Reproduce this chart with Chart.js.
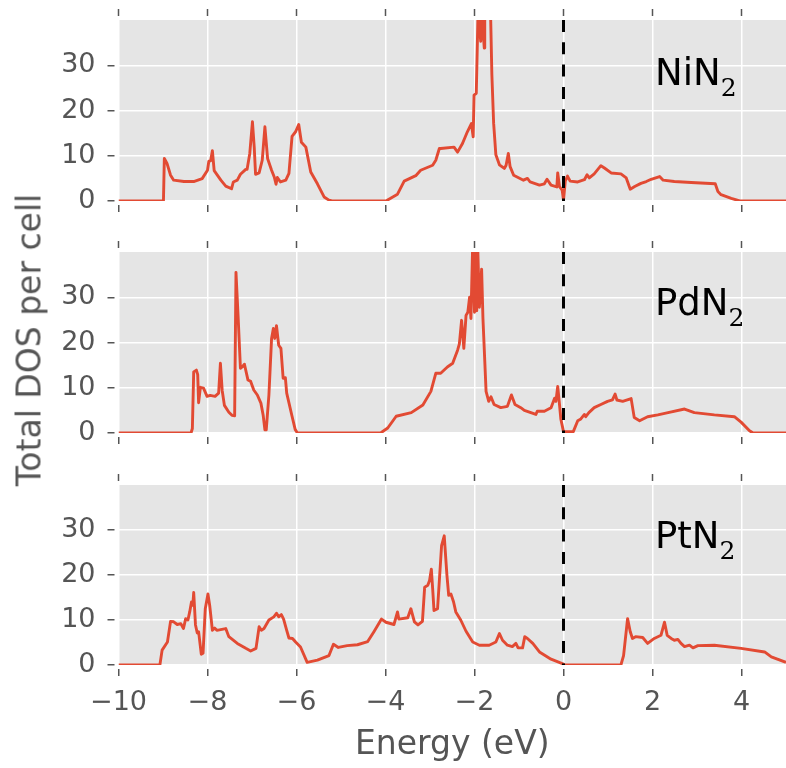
<!DOCTYPE html>
<html><head><meta charset="utf-8">
<script src="https://cdn.jsdelivr.net/npm/chart.js@4.4.1/dist/chart.umd.min.js"></script>
<style>
html,body{margin:0;padding:0;background:#fff;}
#wrap{position:relative;width:786px;height:768px;overflow:hidden;font-family:"DejaVu Sans";}
canvas{position:absolute;left:0;}
.lbl{position:absolute;left:655px;font-family:"DejaVu Sans";font-size:37px;color:#000;white-space:nowrap;line-height:1;}
.lbl .sub{font-family:"DejaVu Serif";font-size:25px;position:relative;top:0.42em;}
#ytitle{position:absolute;font-size:33px;color:#555;white-space:nowrap;line-height:1;transform:translate(-50%,-50%) rotate(-90deg);left:29px;top:340px;}
</style></head>
<body>
<div id="wrap">
<canvas id="c1" width="786" height="221" style="top:0px"></canvas>
<canvas id="c2" width="786" height="221" style="top:232px"></canvas>
<canvas id="c3" width="786" height="303" style="top:465px"></canvas>
<div class="lbl" style="top:54px">NiN<span class="sub">2</span></div>
<div class="lbl" style="top:284px">PdN<span class="sub">2</span></div>
<div class="lbl" style="top:517px">PtN<span class="sub">2</span></div>
<div id="ytitle">Total DOS per cell</div>
</div>
<script>
// ---- data ----
const xTicks = [-10, -8, -6, -4, -2, 0, 2, 4];
const yTicks = [0, 10, 20, 30];
const xRange = [-10, 5];
const yRange = [0, 40];
const fermiLevel = 0;

const niE = [-10,-8.99,-8.97,-8.91,-8.83,-8.76,-8.53,-8.31,-8.12,-8.0,-7.97,-7.93,-7.89,-7.85,-7.70,-7.59,-7.46,-7.42,-7.33,-7.26,-7.14,-7.11,-7.05,-6.99,-6.95,-6.92,-6.84,-6.77,-6.71,-6.65,-6.56,-6.50,-6.46,-6.43,-6.36,-6.24,-6.17,-6.10,-6.02,-5.95,-5.89,-5.79,-5.68,-5.53,-5.38,-5.27,-5.2,-3.99,-3.73,-3.58,-3.32,-3.21,-2.94,-2.87,-2.79,-2.76,-2.46,-2.38,-2.27,-2.16,-2.07,-2.03,-2.01,-1.96,-1.92,-1.86,-1.84,-1.78,-1.77,-1.64,-1.61,-1.57,-1.52,-1.44,-1.33,-1.29,-1.24,-1.20,-1.12,-0.90,-0.81,-0.75,-0.54,-0.43,-0.37,-0.28,-0.15,-0.13,-0.09,-0.03,0.0,0.04,0.09,0.15,0.32,0.47,0.53,0.58,0.69,0.84,0.92,1.07,1.29,1.41,1.50,1.60,1.74,1.86,1.97,2.16,2.24,2.49,2.87,3.41,3.47,3.54,3.77,3.96,5];
const niDOS = [0,0,9.4,8.3,5.7,4.6,4.3,4.3,4.95,6.8,8.8,8.9,11.1,6.7,4.6,3.3,2.7,4.2,4.6,5.9,7.0,7.0,10.5,17.5,11.9,5.9,6.2,9.0,16.4,9.4,6.8,5.3,3.7,5.2,4.2,4.6,6.1,14.3,15.3,16.9,13.0,11.9,6.4,3.8,0.9,0.2,0,0,1.5,4.4,5.6,6.8,7.9,9.0,11.6,11.6,11.9,10.8,12.7,15.3,17.1,14.2,23.4,23.8,42,35.3,42,33.8,42,42,28.0,17.2,10.2,8.0,7.2,7.9,10.5,7.6,5.7,4.6,5.0,4.2,3.5,3.8,4.8,3.5,3.1,6.2,3.2,2.4,0.2,4.4,5.5,4.4,4.2,4.7,5.8,5.1,6.0,7.8,7.3,6.2,6.0,5.1,2.6,3.2,3.9,4.3,4.8,5.4,4.6,4.3,4.1,3.8,2.1,1.4,0.6,0,0];

const pdE = [-10,-8.37,-8.34,-8.31,-8.25,-8.22,-8.20,-8.16,-8.09,-8.01,-7.94,-7.83,-7.75,-7.71,-7.67,-7.62,-7.52,-7.45,-7.39,-7.36,-7.31,-7.26,-7.22,-7.17,-7.09,-7.03,-6.96,-6.88,-6.80,-6.75,-6.71,-6.68,-6.62,-6.56,-6.52,-6.49,-6.45,-6.40,-6.35,-6.30,-6.25,-6.22,-6.10,-6.03,-5.98,-4.11,-3.95,-3.76,-3.42,-3.16,-2.98,-2.87,-2.76,-2.61,-2.49,-2.38,-2.34,-2.29,-2.24,-2.19,-2.15,-2.11,-2.08,-2.04,-2.00,-1.98,-1.95,-1.93,-1.89,-1.84,-1.81,-1.74,-1.68,-1.63,-1.56,-1.41,-1.26,-1.17,-1.09,-0.96,-0.88,-0.62,-0.59,-0.43,-0.28,-0.20,-0.17,-0.13,-0.09,-0.06,0.0,0.22,0.32,0.39,0.47,0.50,0.57,0.69,0.84,0.99,1.10,1.16,1.20,1.33,1.52,1.59,1.71,1.89,2.12,2.35,2.72,2.94,3.39,3.84,3.99,4.18,4.26,5];
const pdDOS = [0,0,1,13.5,13.9,12.9,6.7,10.1,9.9,8.1,8.3,8.1,8.8,15.4,9.4,6.1,4.6,3.9,3.8,35.5,25.3,14.3,14.6,15.2,11.7,11.4,9.5,8.4,6.6,4.0,0.7,0.7,8.4,20.9,23.1,20.9,23.7,19.4,18.7,12.1,12.2,8.8,3.7,0.8,0,0,1.1,3.7,4.5,6.2,9.2,13.2,13.2,14.6,15.4,18.3,19.7,24.9,18.7,26.0,26.7,30.0,25.3,42,26.7,42,27.0,42,27.8,36.2,25.3,9.2,7.0,8.0,6.3,5.6,5.9,8.4,6.3,5.6,5.0,4.1,4.8,4.8,5.6,7.7,7.0,10.3,6.3,3.1,0.3,0.3,2.7,3.1,4.1,3.6,4.5,5.6,6.3,7.0,7.3,8.6,7.3,7.0,7.6,3.4,2.7,3.6,4.0,4.5,5.3,4.5,4.0,3.6,2.4,0.5,0,0];

const ptE = [-10,-9.07,-9.02,-8.90,-8.83,-8.76,-8.68,-8.60,-8.54,-8.49,-8.44,-8.40,-8.36,-8.33,-8.31,-8.27,-8.23,-8.20,-8.14,-8.10,-8.05,-7.99,-7.95,-7.89,-7.84,-7.79,-7.59,-7.52,-7.33,-7.14,-7.03,-6.91,-6.84,-6.79,-6.73,-6.62,-6.51,-6.45,-6.40,-6.34,-6.29,-6.22,-6.17,-6.09,-6.02,-5.91,-5.76,-5.53,-5.27,-5.17,-5.06,-4.86,-4.63,-4.40,-4.26,-4.09,-3.99,-3.81,-3.73,-3.70,-3.50,-3.43,-3.35,-3.27,-3.17,-3.12,-3.05,-3.01,-2.97,-2.94,-2.91,-2.83,-2.74,-2.68,-2.62,-2.58,-2.53,-2.47,-2.42,-2.31,-2.19,-2.04,-1.89,-1.67,-1.52,-1.44,-1.37,-1.26,-1.15,-1.07,-1.02,-0.92,-0.87,-0.81,-0.69,-0.54,-0.28,0.0,0.02,1.29,1.35,1.44,1.50,1.55,1.62,1.78,1.89,2.04,2.19,2.27,2.33,2.42,2.49,2.57,2.64,2.72,2.83,2.91,3.02,3.39,3.99,4.52,4.67,5.0];
const ptDOS = [0,0,3.3,5.1,9.7,9.6,9.0,9.2,8.1,10.3,10.0,11.8,14.0,13.3,16.1,8.9,7.1,7.4,2.4,2.6,12.5,15.8,13.2,7.7,8.2,7.7,8.1,6.3,4.8,3.7,3.1,3.7,8.5,7.7,8.1,10.0,10.7,11.5,10.7,11.2,10.2,7.7,6.0,5.9,5.1,4.0,0.6,1.1,2.1,4.6,3.9,4.3,4.5,5.2,7.4,10.2,9.5,9.0,11.8,10.2,10.5,12.5,9.6,8.9,9.7,17.3,17.7,18.8,21.3,16.9,12.1,12.5,26.5,28.7,20.0,15.5,15.8,14.0,11.8,10.0,7.5,5.1,4.4,4.4,5.1,7.0,5.5,4.4,4.1,4.8,3.8,3.8,6.3,5.9,4.8,2.9,1.3,0.2,0,0,2.1,10.3,7.4,5.9,6.3,6.1,4.8,5.9,6.6,9.5,6.6,5.9,5.5,5.7,4.8,4.1,4.4,3.8,4.3,4.4,3.7,2.9,1.8,0.6];

// ---- drawing ----
const TICK_FONT = {family: 'DejaVu Sans', size: 27};
const minus = v => (v < 0 ? '\u2212' + Math.abs(v) : String(v));
const bgPlugin = {
  id: 'bg',
  beforeDraw(c) {
    const {ctx, chartArea: a} = c;
    ctx.save();
    ctx.fillStyle = '#E5E5E5';
    ctx.fillRect(a.left, a.top, a.right - a.left, a.bottom - a.top);
    ctx.restore();
  }
};
function setTicks(arr) { return s => { s.ticks = arr.map(v => ({value: v})); }; }
function noPad(s) { s.paddingTop = 0; s.paddingBottom = 0; s.paddingLeft = 0; s.paddingRight = 0; }

function panel(id, E, D, isBottom) {
  const pts = E.map((e, i) => ({x: e, y: D[i]}));
  return new Chart(document.getElementById(id), {
    type: 'line',
    data: {
      datasets: [
        {data: [{x: fermiLevel, y: yRange[1]}, {x: fermiLevel, y: yRange[0]}], borderColor: '#000', borderWidth: 3,
         borderDash: [12, 10.3], pointRadius: 0, order: 0, xAxisID: 'x', yAxisID: 'y'},
        {data: pts, borderColor: '#E24A33', borderWidth: 2.9, pointRadius: 0, tension: 0, order: 1,
         xAxisID: 'x', yAxisID: 'y', borderJoinStyle: 'round'}
      ]
    },
    options: {
      responsive: false, animation: false, devicePixelRatio: 1,
      layout: {padding: 0},
      plugins: {legend: {display: false}, tooltip: {enabled: false}},
      scales: {
        x: {
          type: 'linear', position: 'bottom', min: xRange[0], max: xRange[1],
          afterBuildTicks: setTicks(xTicks),
          afterFit: s => { s.height = isBottom ? 103 : 20; noPad(s); },
          border: {display: false},
          grid: {color: '#FFFFFF', lineWidth: 1.5, tickLength: 11, tickColor: '#555555', tickWidth: 1.5,
                 tickBorderDash: [0, 4, 7, 100]},
          ticks: {display: isBottom, font: TICK_FONT, color: '#555555', padding: 11, maxRotation: 0,
                  autoSkip: false, callback: v => minus(v)},
          title: {display: isBottom, text: 'Energy (eV)', color: '#555555',
                  font: {family: 'DejaVu Sans', size: 33}, padding: {top: 0, bottom: 3}}
        },
        xTop: {
          type: 'linear', position: 'top', axis: 'x', min: xRange[0], max: xRange[1],
          afterBuildTicks: setTicks(xTicks),
          afterFit: s => { s.height = 20; noPad(s); },
          border: {display: false},
          grid: {drawOnChartArea: false, tickLength: 11, tickColor: '#555555', tickWidth: 1.5, tickBorderDash: [7, 100]},
          ticks: {display: false}
        },
        y: {
          type: 'linear', position: 'left', min: yRange[0], max: yRange[1],
          afterBuildTicks: setTicks(yTicks),
          afterFit: s => { s.width = 118.5; noPad(s); },
          border: {display: false},
          grid: {color: '#FFFFFF', lineWidth: 1.5, tickLength: 11, tickColor: '#555555', tickWidth: 1.5, tickBorderDash: [7, 100]},
          ticks: {font: TICK_FONT, color: '#555555', padding: 12, callback: v => minus(v)}
        }
      }
    },
    plugins: [bgPlugin]
  });
}
panel('c1', niE, niDOS, false);
panel('c2', pdE, pdDOS, false);
panel('c3', ptE, ptDOS, true);
</script>
</body></html>
